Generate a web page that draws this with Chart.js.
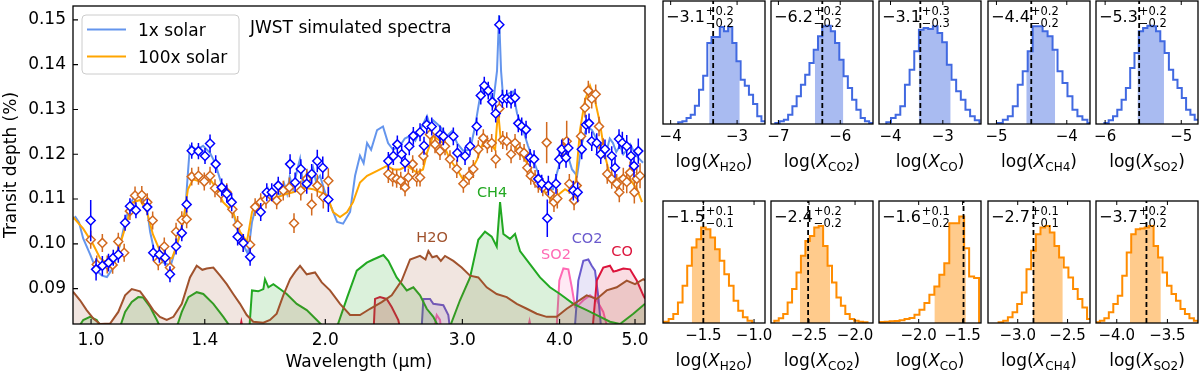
<!DOCTYPE html>
<html>
<head>
<meta charset="utf-8">
<script src="https://cdn.jsdelivr.net/npm/chart.js@4.4.1/dist/chart.umd.min.js"></script>
<style>
  html, body { margin: 0; padding: 0; background: #fff; }
  body { width: 1200px; height: 376px; position: relative; overflow: hidden; }
  canvas { position: absolute; }
</style>
</head>
<body>
<canvas id="main" width="655" height="376" style="left:0;top:0"></canvas>
<script>
// ---- spectra: [wavelength (um), transit depth (%)] ----
const solar1Model = [[0.948,0.1055],[0.955,0.1060],[0.965,0.1048],[0.977,0.1012],[0.997,0.0977],[1.017,0.0940],[1.033,0.0929],[1.048,0.0926],[1.067,0.0946],[1.090,0.0999],[1.106,0.1049],[1.122,0.1087],[1.139,0.1109],[1.163,0.1104],[1.180,0.1078],[1.191,0.1027],[1.208,0.0977],[1.226,0.0961],[1.252,0.0955],[1.263,0.0946],[1.282,0.0984],[1.301,0.1021],[1.321,0.1071],[1.332,0.1159],[1.340,0.1219],[1.368,0.1210],[1.393,0.1219],[1.422,0.1203],[1.443,0.1181],[1.465,0.1144],[1.495,0.1100],[1.522,0.1071],[1.545,0.1027],[1.568,0.0999],[1.591,0.0977],[1.610,0.1049],[1.634,0.1093],[1.664,0.1093],[1.688,0.1122],[1.700,0.1105],[1.713,0.1118],[1.749,0.1109],[1.770,0.1135],[1.786,0.1112],[1.800,0.1150],[1.818,0.1122],[1.840,0.1165],[1.856,0.1190],[1.874,0.1125],[1.895,0.1160],[1.910,0.1135],[1.929,0.1170],[1.945,0.1140],[1.969,0.1152],[2.010,0.1100],[2.040,0.1078],[2.071,0.1049],[2.108,0.1045],[2.152,0.1071],[2.184,0.1152],[2.216,0.1197],[2.240,0.1180],[2.263,0.1225],[2.290,0.1210],[2.331,0.1254],[2.372,0.1262],[2.408,0.1225],[2.444,0.1210],[2.495,0.1219],[2.530,0.1235],[2.570,0.1241],[2.610,0.1230],[2.647,0.1254],[2.702,0.1285],[2.730,0.1262],[2.751,0.1276],[2.808,0.1262],[2.867,0.1241],[2.910,0.1252],[2.953,0.1225],[3.006,0.1208],[3.069,0.1210],[3.115,0.1262],[3.161,0.1328],[3.208,0.1350],[3.256,0.1335],[3.285,0.1313],[3.324,0.1386],[3.344,0.1511],[3.364,0.1386],[3.384,0.1328],[3.434,0.1335],[3.485,0.1340],[3.527,0.1291],[3.579,0.1262],[3.643,0.1219],[3.698,0.1188],[3.753,0.1159],[3.809,0.1137],[3.866,0.1122],[3.923,0.1122],[3.970,0.1159],[4.029,0.1197],[4.089,0.1203],[4.150,0.1166],[4.212,0.1152],[4.274,0.1225],[4.338,0.1262],[4.403,0.1254],[4.468,0.1232],[4.535,0.1219],[4.602,0.1210],[4.640,0.1235],[4.685,0.1225],[4.730,0.1205],[4.783,0.1219],[4.830,0.1200],[4.883,0.1210],[4.930,0.1222],[4.971,0.1210],[5.030,0.1195],[5.075,0.1188],[5.120,0.1181]];

const solar100Model = [[0.948,0.1060],[0.977,0.1034],[1.006,0.0999],[1.027,0.0968],[1.048,0.0957],[1.067,0.0961],[1.090,0.0999],[1.112,0.1049],[1.132,0.1093],[1.156,0.1098],[1.180,0.1071],[1.201,0.1021],[1.226,0.0984],[1.252,0.0968],[1.271,0.0968],[1.290,0.0999],[1.313,0.1049],[1.332,0.1122],[1.352,0.1144],[1.393,0.1137],[1.422,0.1144],[1.452,0.1122],[1.478,0.1093],[1.522,0.1071],[1.554,0.1027],[1.586,0.1005],[1.610,0.1071],[1.634,0.1093],[1.683,0.1100],[1.713,0.1100],[1.786,0.1112],[1.818,0.1115],[1.880,0.1125],[1.929,0.1122],[2.010,0.1109],[2.046,0.1071],[2.089,0.1060],[2.133,0.1071],[2.171,0.1093],[2.216,0.1137],[2.263,0.1152],[2.331,0.1163],[2.400,0.1174],[2.444,0.1166],[2.495,0.1166],[2.547,0.1174],[2.623,0.1159],[2.670,0.1166],[2.702,0.1203],[2.751,0.1241],[2.833,0.1225],[2.892,0.1188],[2.953,0.1166],[3.006,0.1144],[3.069,0.1159],[3.133,0.1188],[3.189,0.1225],[3.256,0.1225],[3.305,0.1210],[3.334,0.1298],[3.364,0.1225],[3.404,0.1232],[3.475,0.1225],[3.537,0.1210],[3.611,0.1188],[3.687,0.1159],[3.753,0.1137],[3.832,0.1115],[3.911,0.1100],[3.981,0.1109],[4.065,0.1122],[4.126,0.1115],[4.187,0.1122],[4.249,0.1254],[4.312,0.1320],[4.377,0.1353],[4.442,0.1320],[4.508,0.1269],[4.575,0.1197],[4.643,0.1152],[4.741,0.1144],[4.826,0.1152],[4.927,0.1144],[5.030,0.1122],[5.105,0.1093]];

// ---- simulated JWST points: [wavelength, depth, 1-sigma error] ----
const obs1 = [[0.999,0.1052,0.0046],[1.015,0.0943,0.0025],[1.034,0.0951,0.0022],[1.053,0.0958,0.0020],[1.068,0.0969,0.0018],[1.084,0.0976,0.0018],[1.106,0.1047,0.0018],[1.122,0.1084,0.0018],[1.142,0.1075,0.0018],[1.181,0.1082,0.0018],[1.202,0.0980,0.0018],[1.224,0.0976,0.0018],[1.245,0.0969,0.0018],[1.263,0.0932,0.0018],[1.286,0.0994,0.0018],[1.308,0.1024,0.0018],[1.327,0.1088,0.0018],[1.347,0.1208,0.0018],[1.374,0.1207,0.0018],[1.401,0.1196,0.0018],[1.422,0.1224,0.0020],[1.446,0.1178,0.0020],[1.472,0.1126,0.0020],[1.494,0.1112,0.0020],[1.516,0.1093,0.0020],[1.543,0.1016,0.0020],[1.569,0.1002,0.0020],[1.601,0.0971,0.0020],[1.652,0.1071,0.0020],[1.682,0.1115,0.0020],[1.707,0.1115,0.0020],[1.740,0.1130,0.0020],[1.802,0.1178,0.0022],[1.829,0.1137,0.0022],[1.860,0.1167,0.0022],[1.893,0.1134,0.0022],[1.921,0.1156,0.0022],[1.953,0.1185,0.0025],[1.985,0.1170,0.0025],[2.018,0.1099,0.0028],[2.410,0.1185,0.0020],[2.446,0.1196,0.0020],[2.475,0.1222,0.0020],[2.507,0.1200,0.0020],[2.532,0.1181,0.0020],[2.564,0.1218,0.0020],[2.595,0.1241,0.0020],[2.647,0.1249,0.0020],[2.678,0.1219,0.0020],[2.700,0.1266,0.0020],[2.740,0.1262,0.0020],[2.808,0.1244,0.0020],[2.836,0.1240,0.0020],[2.921,0.1240,0.0020],[2.956,0.1203,0.0020],[3.024,0.1196,0.0020],[3.069,0.1218,0.0020],[3.130,0.1262,0.0020],[3.168,0.1331,0.0020],[3.201,0.1353,0.0020],[3.239,0.1342,0.0020],[3.278,0.1317,0.0020],[3.311,0.1291,0.0020],[3.347,0.1489,0.0020],[3.377,0.1324,0.0020],[3.421,0.1324,0.0020],[3.465,0.1322,0.0020],[3.506,0.1326,0.0020],[3.540,0.1269,0.0020],[3.576,0.1262,0.0020],[3.622,0.1255,0.0020],[3.666,0.1192,0.0020],[3.709,0.1189,0.0020],[3.756,0.1145,0.0020],[3.794,0.1134,0.0020],[3.857,0.1057,0.0042],[3.869,0.1130,0.0022],[3.958,0.1134,0.0022],[3.997,0.1189,0.0022],[4.025,0.1211,0.0022],[4.077,0.1192,0.0022],[4.105,0.1214,0.0022],[4.166,0.1119,0.0022],[4.220,0.1115,0.0022],[4.271,0.1211,0.0022],[4.326,0.1266,0.0022],[4.364,0.1269,0.0022],[4.399,0.1229,0.0022],[4.465,0.1225,0.0022],[4.518,0.1200,0.0022],[4.575,0.1211,0.0022],[4.667,0.1196,0.0022],[4.713,0.1170,0.0022],[4.769,0.1234,0.0022],[4.816,0.1225,0.0025],[4.879,0.1218,0.0025],[4.941,0.1196,0.0025],[4.985,0.1174,0.0025],[5.049,0.1207,0.0028]];

const obs100 = [[0.999,0.1009,0.0020],[1.017,0.0954,0.0020],[1.034,0.1002,0.0020],[1.049,0.0954,0.0020],[1.066,0.0953,0.0020],[1.084,0.1005,0.0020],[1.103,0.0980,0.0020],[1.122,0.1073,0.0020],[1.139,0.1108,0.0020],[1.162,0.1109,0.0020],[1.181,0.1093,0.0020],[1.200,0.1052,0.0020],[1.220,0.0961,0.0020],[1.242,0.0994,0.0020],[1.263,0.0947,0.0020],[1.286,0.1027,0.0020],[1.308,0.1053,0.0020],[1.327,0.1055,0.0020],[1.347,0.1150,0.0020],[1.374,0.1152,0.0020],[1.398,0.1139,0.0020],[1.422,0.1152,0.0020],[1.443,0.1124,0.0020],[1.469,0.1112,0.0020],[1.494,0.1115,0.0020],[1.519,0.1077,0.0020],[1.543,0.1042,0.0020],[1.569,0.1002,0.0020],[1.601,0.0998,0.0020],[1.625,0.1082,0.0020],[1.652,0.1093,0.0020],[1.678,0.1099,0.0020],[1.732,0.1097,0.0020],[1.766,0.1119,0.0022],[1.798,0.1126,0.0022],[1.823,0.1046,0.0022],[1.860,0.1119,0.0022],[1.893,0.1145,0.0022],[1.921,0.1088,0.0025],[1.953,0.1130,0.0025],[1.988,0.1104,0.0025],[2.018,0.1141,0.0028],[2.410,0.1156,0.0020],[2.441,0.1148,0.0020],[2.470,0.1145,0.0020],[2.500,0.1141,0.0020],[2.532,0.1126,0.0020],[2.557,0.1148,0.0020],[2.590,0.1178,0.0020],[2.621,0.1148,0.0020],[2.647,0.1148,0.0020],[2.673,0.1196,0.0020],[2.726,0.1244,0.0020],[2.767,0.1222,0.0020],[2.808,0.1207,0.0020],[2.850,0.1218,0.0020],[2.892,0.1189,0.0020],[2.951,0.1167,0.0020],[3.009,0.1134,0.0020],[3.060,0.1152,0.0020],[3.099,0.1167,0.0020],[3.145,0.1211,0.0020],[3.192,0.1236,0.0020],[3.230,0.1222,0.0020],[3.272,0.1225,0.0020],[3.311,0.1189,0.0020],[3.347,0.1302,0.0020],[3.381,0.1232,0.0020],[3.421,0.1229,0.0020],[3.465,0.1200,0.0020],[3.506,0.1225,0.0020],[3.558,0.1207,0.0020],[3.601,0.1203,0.0020],[3.636,0.1170,0.0020],[3.673,0.1152,0.0020],[3.720,0.1145,0.0020],[3.756,0.1134,0.0020],[3.806,0.1126,0.0020],[3.850,0.1226,0.0046],[3.888,0.1112,0.0022],[3.934,0.1093,0.0022],[3.973,0.1101,0.0022],[4.037,0.1214,0.0022],[4.085,0.1229,0.0046],[4.117,0.1134,0.0022],[4.175,0.1097,0.0022],[4.208,0.1130,0.0022],[4.262,0.1240,0.0022],[4.312,0.1304,0.0022],[4.355,0.1342,0.0022],[4.399,0.1324,0.0022],[4.451,0.1334,0.0022],[4.495,0.1262,0.0022],[4.552,0.1214,0.0022],[4.606,0.1156,0.0022],[4.667,0.1145,0.0022],[4.737,0.1134,0.0022],[4.773,0.1115,0.0022],[4.830,0.1145,0.0025],[4.879,0.1138,0.0025],[4.927,0.1159,0.0025],[4.990,0.1115,0.0025],[5.026,0.1145,0.0025],[5.075,0.1152,0.0028]];

// ---- molecular contributions (scaled, bottom of panel) ----
const h2oContrib = [[0.948,0.0893],[0.968,0.0874],[0.987,0.0852],[1.007,0.0833],[1.027,0.0821],[1.058,0.0822],[1.084,0.0848],[1.106,0.0885],[1.128,0.0899],[1.156,0.0894],[1.179,0.0874],[1.202,0.0852],[1.226,0.0837],[1.251,0.0830],[1.276,0.0837],[1.308,0.0866],[1.340,0.0925],[1.367,0.0951],[1.390,0.0942],[1.408,0.0945],[1.436,0.0947],[1.465,0.0929],[1.494,0.0910],[1.523,0.0888],[1.554,0.0866],[1.585,0.0841],[1.616,0.0826],[1.665,0.0824],[1.698,0.0830],[1.732,0.0844],[1.766,0.0885],[1.802,0.0921],[1.830,0.0938],[1.856,0.0951],[1.893,0.0932],[1.940,0.0936],[1.979,0.0914],[2.028,0.0896],[2.089,0.0866],[2.152,0.0841],[2.216,0.0841],[2.283,0.0855],[2.363,0.0870],[2.434,0.0885],[2.507,0.0918],[2.570,0.0965],[2.647,0.0973],[2.690,0.0965],[2.713,0.0984],[2.745,0.0970],[2.781,0.0973],[2.815,0.0962],[2.850,0.0973],[2.921,0.0962],[2.994,0.0947],[3.069,0.0929],[3.145,0.0925],[3.224,0.0903],[3.321,0.0888],[3.421,0.0881],[3.524,0.0866],[3.630,0.0855],[3.738,0.0844],[3.850,0.0837],[3.966,0.0837],[4.085,0.0855],[4.208,0.0870],[4.334,0.0885],[4.465,0.0877],[4.598,0.0896],[4.737,0.0903],[4.879,0.0918],[5.000,0.0910],[5.124,0.0921],[5.150,0.0918]];
const ch4Contrib = [[0.948,0.0800],[0.965,0.0815],[0.977,0.0830],[0.997,0.0837],[1.017,0.0830],[1.037,0.0805],[1.064,0.0790],[1.090,0.0815],[1.106,0.0848],[1.128,0.0870],[1.150,0.0881],[1.167,0.0880],[1.191,0.0859],[1.215,0.0830],[1.226,0.0815],[1.256,0.0790],[1.289,0.0815],[1.308,0.0848],[1.334,0.0881],[1.367,0.0892],[1.394,0.0888],[1.436,0.0866],[1.479,0.0837],[1.509,0.0815],[1.554,0.0790],[1.598,0.0815],[1.610,0.0896],[1.640,0.0894],[1.665,0.0899],[1.673,0.0921],[1.690,0.0903],[1.715,0.0910],[1.749,0.0899],[1.784,0.0888],[1.838,0.0866],[1.893,0.0852],[1.950,0.0830],[1.988,0.0815],[2.028,0.0795],[2.071,0.0815],[2.133,0.0880],[2.195,0.0940],[2.261,0.0958],[2.305,0.0965],[2.375,0.0975],[2.410,0.0962],[2.470,0.0925],[2.545,0.0896],[2.595,0.0903],[2.647,0.0885],[2.700,0.0855],[2.753,0.0837],[2.794,0.0815],[2.850,0.0795],[2.892,0.0815],[2.979,0.0874],[3.069,0.0925],[3.145,0.1009],[3.208,0.1027],[3.272,0.1016],[3.321,0.0994],[3.354,0.1093],[3.387,0.1022],[3.454,0.1011],[3.506,0.1022],[3.558,0.0984],[3.666,0.0954],[3.775,0.0925],[3.888,0.0903],[4.005,0.0888],[4.166,0.0866],[4.334,0.0852],[4.465,0.0841],[4.643,0.0826],[4.783,0.0821],[4.975,0.0844],[5.124,0.0863],[5.150,0.0866]];
const coContrib = [[0.948,0.0790],[1.545,0.0790],[1.560,0.0826],[1.575,0.0790],[2.305,0.0790],[2.317,0.0877],[2.351,0.0881],[2.398,0.0877],[2.434,0.0859],[2.482,0.0830],[2.510,0.0790],[4.400,0.0790],[4.465,0.0918],[4.552,0.0947],[4.643,0.0951],[4.690,0.0938],[4.737,0.0940],[4.830,0.0945],[4.927,0.0943],[5.026,0.0918],[5.124,0.0885],[5.150,0.0878]];
const co2Contrib = [[0.948,0.0790],[2.655,0.0790],[2.673,0.0877],[2.726,0.0877],[2.753,0.0866],[2.836,0.0863],[2.878,0.0841],[2.901,0.0790],[4.175,0.0790],[4.228,0.0918],[4.291,0.0962],[4.355,0.0965],[4.399,0.0951],[4.442,0.0940],[4.486,0.0881],[4.535,0.0790],[5.150,0.0790]];
const so2Contrib = [[0.948,0.0790],[2.745,0.0790],[2.781,0.0841],[2.808,0.0830],[2.825,0.0790],[3.620,0.0790],[3.660,0.0828],[3.700,0.0790],[3.958,0.0790],[3.997,0.0918],[4.045,0.0945],[4.105,0.0943],[4.147,0.0903],[4.187,0.0859],[4.228,0.0863],[4.291,0.0874],[4.377,0.0885],[4.465,0.0874],[4.552,0.0848],[4.643,0.0790],[5.150,0.0790]];

const speciesNames = ['H2O', 'CH4', 'SO2', 'CO2', 'CO'];
const speciesLabelWave = [2.743, 3.275, 3.958, 4.338, 4.812];
const speciesLabelDepth = [0.1012, 0.1113, 0.0975, 0.1010, 0.0981];

const waveTicks = [1.0, 1.4, 2.0, 3.0, 4.0, 5.0];
const depthTicks = [0.09, 0.10, 0.11, 0.12, 0.13, 0.14, 0.15];

// ---- retrieval posteriors (log mixing ratios) ----
const postSpecies = ['H2O', 'CO2', 'CO', 'CH4', 'SO2'];
// 1x solar (top row)
const post1Start = [-3.886, -7.05, -4.08, -4.98, -6.01];
const post1Width = [0.0626, 0.069, 0.089, 0.0707, 0.0565];
const post1Counts = [
  [5, 8, 18, 28, 55, 103, 145, 243, 261, 261, 291, 278, 291, 243, 188, 133, 115, 88, 60, 23, 8],
  [3, 8, 13, 28, 53, 83, 118, 148, 183, 223, 263, 293, 295, 278, 243, 193, 143, 108, 73, 43, 18, 8, 3],
  [5, 18, 28, 53, 118, 163, 218, 283, 288, 285, 293, 273, 245, 178, 133, 98, 73, 43, 23, 11],
  [3, 13, 23, 53, 118, 158, 218, 293, 293, 278, 263, 223, 158, 123, 83, 43, 23, 13, 3],
  [3, 11, 23, 43, 73, 108, 168, 213, 278, 288, 295, 293, 278, 248, 213, 163, 133, 108, 78, 43, 28, 13, 5]
];
const post1Lo = [-3.42, -6.41, -3.46, -4.576, -5.575];
const post1Hi = [-2.96, -5.95, -2.85, -4.166, -5.227];
const post1Truth = [-3.36, -6.29, -3.43, -4.505, -5.553];
const post1Median = ['\u22123.1', '\u22126.2', '\u22123.1', '\u22124.4', '\u22125.3'];
const post1Plus = ['+0.2', '+0.2', '+0.3', '+0.2', '+0.2'];
const post1Minus = ['\u22120.2', '\u22120.2', '\u22120.3', '\u22120.2', '\u22120.2'];
const post1Ticks = [[-4, -3], [-7, -6], [-4, -3], [-5, -4], [-6, -5]];
const post1Range = [[-4.115, -2.58], [-7.12, -5.47], [-4.22, -2.27], [-5.12, -3.67], [-6.12, -4.78]];
// 100x solar (bottom row)
const post100Start = [-1.888, -2.877, -2.444, -3.192, -4.211];
const post100Width = [0.04575, 0.0482, 0.0566, 0.0467, 0.0442];
const post100Counts = [
  [4, 12, 27, 62, 112, 172, 227, 252, 287, 282, 257, 222, 187, 147, 112, 67, 37, 17, 7],
  [7, 14, 27, 62, 102, 152, 202, 247, 262, 287, 292, 232, 172, 122, 77, 52, 27, 12, 7, 4, 2],
  [3, 4, 5, 6, 8, 12, 15, 25, 40, 60, 85, 110, 145, 180, 300, 300, 320, 225, 140, 135],
  [2, 7, 17, 32, 57, 92, 162, 217, 267, 287, 292, 272, 232, 197, 167, 137, 102, 72, 47, 12],
  [2, 7, 14, 32, 57, 82, 142, 212, 267, 282, 284, 287, 292, 232, 197, 152, 112, 87, 67, 42, 27, 14, 7]
];
const post100Lo = [-1.614, -2.599, -1.821, -2.848, -3.870];
const post100Hi = [-1.336, -2.27, -1.462, -2.548, -3.565];
const post100Truth = [-1.5, -2.51, -1.489, -2.842, -3.707];
const post100Median = ['\u22121.5', '\u22122.4', '\u22121.6', '\u22122.7', '\u22123.7'];
const post100Plus = ['+0.1', '+0.2', '+0.1', '+0.1', '+0.2'];
const post100Minus = ['\u22120.1', '\u22120.2', '\u22120.2', '\u22120.1', '\u22120.2'];
const post100Ticks = [[-1.5, -1.0], [-2.5, -2.0], [-2.0, -1.5], [-3.0, -2.5], [-4.0, -3.5]];
const post100Range = [[-1.898, -0.892], [-2.913, -1.805], [-2.452, -1.29], [-3.298, -2.275], [-4.205, -3.198]];

Chart.defaults.font.family = '"DejaVu Sans"';
Chart.defaults.color = '#000';
Chart.defaults.animation = false;

const FONT = '"DejaVu Sans"';
const toXY = pairs => pairs.map(p => ({x: p[0], y: p[1]}));
const minus = (v, d) => (v < 0 ? '\u2212' : '') + Math.abs(v).toFixed(d);

//draw the error bars under each marker set
const errorBars = {
  id: 'errorBars',
  beforeDatasetDraw(chart, args) {
    const ds = chart.data.datasets[args.index];
    if (!ds.errs) return;
    const {ctx, scales: {x, y}} = chart;
    ctx.save();
    ctx.strokeStyle = ds.borderColor;
    ctx.lineWidth = 1.5;
    ctx.beginPath();
    ds.data.forEach((p, i) => {
      const px = x.getPixelForValue(p.x);
      ctx.moveTo(px, y.getPixelForValue(p.y - ds.errs[i]));
      ctx.lineTo(px, y.getPixelForValue(p.y + ds.errs[i]));
    });
    ctx.stroke();
    ctx.restore();
  }
};

const contribs = [
  {data: h2oContrib, color: '#a0522d', fill: 'rgba(160,82,45,0.15)'},
  {data: ch4Contrib, color: '#22a822', fill: 'rgba(34,168,34,0.16)'},
  {data: coContrib, color: '#dc143c', fill: 'rgba(220,20,60,0.15)'},
  {data: co2Contrib, color: '#6a5acd', fill: 'rgba(106,90,205,0.15)'},
  {data: so2Contrib, color: '#ff69b4', fill: 'rgba(255,105,180,0.15)'}
];
const speciesColors = {H2O: '#a0522d', CH4: '#22a822', CO: '#dc143c', CO2: '#6a5acd', SO2: '#ff69b4'};

const mainSets = contribs.map((c, i) => ({
  data: toXY(c.data), borderColor: c.color, backgroundColor: c.fill,
  borderWidth: 2, pointRadius: 0, fill: 'start', order: 20 + i, clip: 0
}));
mainSets.push({data: toXY(solar1Model), borderColor: '#6495ed', borderWidth: 2, pointRadius: 0, fill: false, order: 11, clip: 0});
mainSets.push({data: toXY(solar100Model), borderColor: '#ffa500', borderWidth: 2, pointRadius: 0, fill: false, order: 10, clip: 0});
mainSets.push({data: toXY(obs100), errs: obs100.map(p => p[2]), showLine: false, pointStyle: 'rectRot',
  pointRadius: 4.5, pointBorderWidth: 1.5, borderColor: '#d2691e', pointBorderColor: '#d2691e', pointBackgroundColor: '#fff', order: 3});
mainSets.push({data: toXY(obs1), errs: obs1.map(p => p[2]), showLine: false, pointStyle: 'rectRot',
  pointRadius: 4.5, pointBorderWidth: 1.5, borderColor: '#0000ff', pointBorderColor: '#0000ff', pointBackgroundColor: '#fff', order: 2});

const mainDecor = {
  id: 'mainDecor',
  afterDraw(chart) {
    const {ctx, chartArea: a, scales: {x, y}} = chart;
    ctx.save();
    ctx.strokeStyle = '#000';
    ctx.lineWidth = 1.1;
    ctx.beginPath();
    waveTicks.forEach(v => { const px = x.getPixelForValue(v); ctx.moveTo(px, a.bottom); ctx.lineTo(px, a.bottom - 5); });
    depthTicks.forEach(v => { const py = y.getPixelForValue(v); ctx.moveTo(a.left, py); ctx.lineTo(a.left + 5, py); });
    ctx.stroke();
    ctx.lineWidth = 1.3;
    ctx.strokeRect(a.left, a.top, a.right - a.left, a.bottom - a.top);

    // molecule names
    ctx.font = '14.5px ' + FONT;
    ctx.textAlign = 'center';
    ctx.textBaseline = 'middle';
    speciesNames.forEach((s, i) => {
      ctx.fillStyle = speciesColors[s];
      ctx.fillText(s, x.getPixelForValue(speciesLabelWave[i]), y.getPixelForValue(speciesLabelDepth[i]));
    });

    // title
    ctx.fillStyle = '#000';
    ctx.textAlign = 'left';
    ctx.textBaseline = 'alphabetic';
    ctx.font = '17px ' + FONT;
    ctx.fillText('JWST simulated spectra', a.left + 177, a.top + 27);

    // legend
    const lx = a.left + 9, ly = a.top + 9;
    ctx.fillStyle = 'rgba(255,255,255,0.8)';
    ctx.strokeStyle = '#cccccc';
    ctx.lineWidth = 1;
    ctx.beginPath();
    ctx.roundRect(lx, ly, 157, 59, 4);
    ctx.fill();
    ctx.stroke();
    const entries = [['1x solar', '#6495ed'], ['100x solar', '#ffa500']];
    entries.forEach((e, i) => {
      const yy = ly + 14.5 + i * 27;
      ctx.strokeStyle = e[1];
      ctx.lineWidth = 2;
      ctx.beginPath(); ctx.moveTo(lx + 5, yy); ctx.lineTo(lx + 44, yy); ctx.stroke();
      ctx.fillStyle = '#000';
      ctx.fillText(e[0], lx + 56, yy + 6);
    });
    ctx.restore();
  }
};

new Chart(document.getElementById('main'), {
  type: 'line',
  data: {datasets: mainSets},
  options: {
    responsive: false, devicePixelRatio: 1, events: [],
    layout: {padding: {left: 0, right: 10, top: 1, bottom: 0}},
    plugins: {legend: {display: false}, tooltip: {enabled: false}},
    scales: {
      x: {
        type: 'logarithmic', min: 0.948, max: 5.15,
        afterBuildTicks: s => { s.ticks = waveTicks.map(v => ({value: v})); },
        afterFit: s => { s.height = 52; s.paddingLeft = 0; s.paddingRight = 0; },
        grid: {display: false, drawTicks: false}, border: {display: false},
        ticks: {autoSkip: false, maxRotation: 0, padding: 6, font: {size: 17}, callback: v => Number(v).toFixed(1)},
        title: {display: true, text: 'Wavelength (\u00b5m)', font: {size: 17}, padding: {top: 0, bottom: 3}}
      },
      y: {
        min: 0.0821, max: 0.1531,
        afterBuildTicks: s => { s.ticks = depthTicks.map(v => ({value: v})); },
        afterFit: s => { s.width = 73; s.paddingTop = 0; s.paddingBottom = 0; },
        grid: {display: false, drawTicks: false}, border: {display: false},
        ticks: {padding: 7, font: {size: 17}, callback: v => Number(v).toFixed(2)},
        title: {display: true, text: 'Transit depth (%)', font: {size: 17}, padding: {top: 1, bottom: 0}}
      }
    }
  },
  plugins: [errorBars, mainDecor]
});

// ---- posterior panels ----
const panelLeft = [663, 771, 879, 988, 1096];
const panelW = 102;
const rows = [
  {top: 0, height: 186, padTop: 1, axisH: 62, ymax: 369, dec: 0, line: '#4169e1', fill: 'rgba(65,105,225,0.45)',
   start: post1Start, width: post1Width, counts: post1Counts, lo: post1Lo, hi: post1Hi, truth: post1Truth,
   med: post1Median, plus: post1Plus, minus: post1Minus, ticks: post1Ticks, range: post1Range},
  {top: 186, height: 190, padTop: 15, axisH: 53, ymax: 367, dec: 1, line: '#ff8c00', fill: 'rgba(255,140,0,0.45)',
   start: post100Start, width: post100Width, counts: post100Counts, lo: post100Lo, hi: post100Hi, truth: post100Truth,
   med: post100Median, plus: post100Plus, minus: post100Minus, ticks: post100Ticks, range: post100Range}
];

function outline(start, w, counts) {
  const pts = [{x: start, y: 0}];
  counts.forEach((c, i) => pts.push({x: start + i * w, y: c}));
  pts.push({x: start + counts.length * w, y: 0});
  return pts;
}
function shaded(start, w, counts, lo, hi) {
  const bin = v => Math.min(counts.length - 1, Math.max(0, Math.floor((v - start) / w)));
  const pts = [{x: lo, y: counts[bin(lo)]}];
  for (let i = bin(lo) + 1; i <= bin(hi); i++) pts.push({x: start + i * w, y: counts[i]});
  pts.push({x: hi, y: counts[bin(hi)]});
  return pts;
}

function postDecor(row, k) {
  return {
    id: 'postDecor',
    afterDraw(chart) {
      const {ctx, chartArea: a, scales: {x}} = chart;
      ctx.save();
      // true value
      const tx = x.getPixelForValue(row.truth[k]);
      ctx.strokeStyle = '#000';
      ctx.lineWidth = 1.8;
      ctx.setLineDash([5, 3]);
      ctx.beginPath(); ctx.moveTo(tx, a.bottom); ctx.lineTo(tx, a.top); ctx.stroke();
      ctx.setLineDash([]);
      // frame + inward ticks
      ctx.lineWidth = 1.3;
      ctx.strokeRect(a.left, a.top, a.right - a.left, a.bottom - a.top);
      ctx.lineWidth = 1;
      ctx.beginPath();
      row.ticks[k].forEach(v => {
        const px = x.getPixelForValue(v);
        ctx.moveTo(px, a.bottom); ctx.lineTo(px, a.bottom - 4);
        ctx.moveTo(px, a.top); ctx.lineTo(px, a.top + 4);
      });
      ctx.stroke();
      // median with errors
      ctx.fillStyle = '#000';
      ctx.textAlign = 'left';
      ctx.textBaseline = 'alphabetic';
      ctx.font = '16px ' + FONT;
      ctx.fillText(row.med[k], a.left + 3, a.top + 21);
      const mw = ctx.measureText(row.med[k]).width;
      ctx.font = '11.5px ' + FONT;
      ctx.fillText(row.plus[k], a.left + 4 + mw, a.top + 13.5);
      ctx.fillText(row.minus[k], a.left + 4 + mw, a.top + 26);
      // axis label log(X_sp)
      const cx = (a.left + a.right) / 2, by = a.bottom + 43;
      const sub = postSpecies[k];
      ctx.font = '17px ' + FONT; const w1 = ctx.measureText('log(').width, w4 = ctx.measureText(')').width;
      ctx.font = 'italic 17px ' + FONT; const w2 = ctx.measureText('X').width;
      ctx.font = '12px ' + FONT; const w3 = ctx.measureText(sub).width;
      let x0 = cx - (w1 + w2 + w3 + w4) / 2;
      ctx.font = '17px ' + FONT; ctx.fillText('log(', x0, by); x0 += w1;
      ctx.font = 'italic 17px ' + FONT; ctx.fillText('X', x0, by); x0 += w2;
      ctx.font = '12px ' + FONT; ctx.fillText(sub, x0, by + 4); x0 += w3;
      ctx.font = '17px ' + FONT; ctx.fillText(')', x0, by);
      ctx.restore();
    }
  };
}

rows.forEach(row => {
  panelLeft.forEach((left, k) => {
    const cv = document.createElement('canvas');
    cv.width = panelW + 24;
    cv.height = row.height;
    cv.style.left = (left - 12) + 'px';
    cv.style.top = row.top + 'px';
    document.body.appendChild(cv);
    new Chart(cv, {
      type: 'line',
      data: {datasets: [
        {data: outline(row.start[k], row.width[k], row.counts[k]), stepped: true, borderColor: row.line,
         borderWidth: 2, pointRadius: 0, fill: false, order: 1, clip: 0},
        {data: shaded(row.start[k], row.width[k], row.counts[k], row.lo[k], row.hi[k]), stepped: true,
         borderWidth: 0, borderColor: 'rgba(0,0,0,0)', backgroundColor: row.fill, pointRadius: 0, fill: 'origin', order: 2, clip: 0}
      ]},
      options: {
        responsive: false, devicePixelRatio: 1, events: [],
        layout: {padding: {left: 12, right: 12, top: row.padTop, bottom: 0}},
        plugins: {legend: {display: false}, tooltip: {enabled: false}},
        scales: {
          x: {
            type: 'linear', min: row.range[k][0], max: row.range[k][1],
            afterBuildTicks: s => { s.ticks = row.ticks[k].map(v => ({value: v})); },
            afterFit: s => { s.height = row.axisH; s.paddingLeft = 0; s.paddingRight = 0; },
            grid: {display: false, drawTicks: false}, border: {display: false},
            ticks: {autoSkip: false, maxRotation: 0, padding: 4.5, font: {size: 15}, callback: v => minus(v, row.dec)}
          },
          y: {display: false, min: 0, max: row.ymax}
        }
      },
      plugins: [postDecor(row, k)]
    });
  });
});
</script>
</body>
</html>
